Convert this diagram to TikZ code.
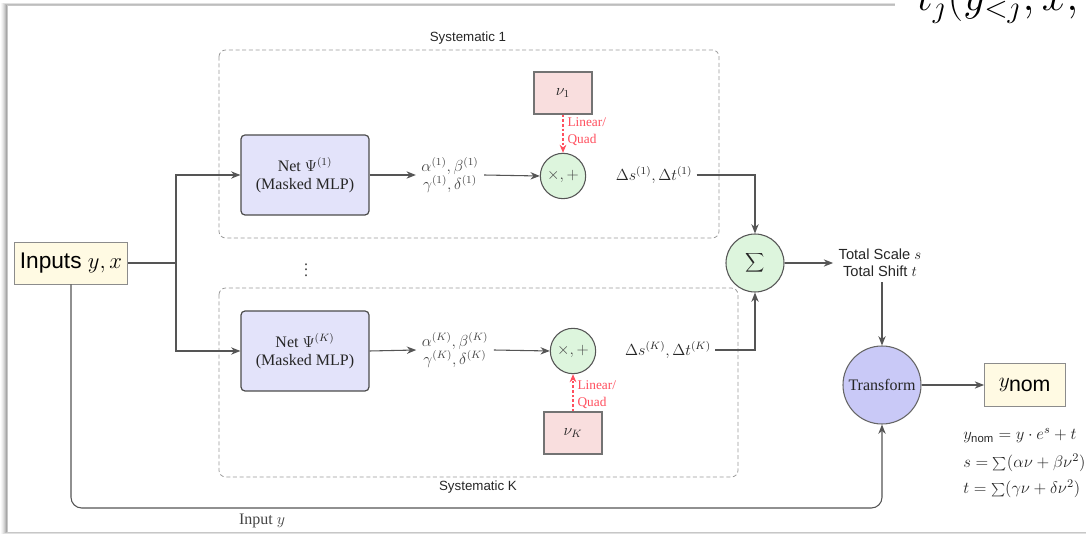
\documentclass[tikz,border=0pt]{standalone}
\usepackage{fix-cm}
\usepackage[no-math]{fontspec}
\setmainfont{Liberation Serif}
\setsansfont{Liberation Sans}
\usetikzlibrary{arrows.meta,calc}

\definecolor{edge}{HTML}{555555}
\definecolor{netfill}{HTML}{E3E3FA}
\definecolor{opfill}{HTML}{DDF5DD}
\definecolor{nufill}{HTML}{F9DEDE}
\definecolor{trfill}{HTML}{C9C9F7}
\definecolor{iofill}{HTML}{FFFAE3}
\definecolor{sysred}{HTML}{FF4F5E}
\definecolor{txt}{HTML}{262626}
\definecolor{soft}{HTML}{444444}

\newcommand\setfs[2]{\fontsize{#1}{#2}\selectfont}

\tikzset{
  netbox/.style={draw=black!70, line width=0.9pt, fill=netfill, rounded corners=3pt,
    minimum width=96pt, minimum height=60pt, align=center, font=\setfs{12}{13.5}, text=txt},
  opnode/.style={circle, draw=edge, line width=0.8pt, fill=opfill, minimum size=34pt,
    inner sep=0pt, font=\setfs{12}{14}, text=soft},
  nubox/.style={draw=black!55, line width=0.8pt, fill=nufill, minimum width=43.5pt,
    minimum height=31.5pt, font=\setfs{12}{14}, text=txt},
  iobox/.style={draw=black!45, line width=0.7pt, fill=iofill, inner sep=2pt, text=black},
  flow/.style={draw=edge, line width=0.8pt, -{Stealth[length=7pt,width=5.5pt]}},
  wire/.style={draw=edge, line width=0.8pt},
  quad/.style={draw=sysred, line width=0.8pt, dash pattern=on 2pt off 1.5pt,
    -{Stealth[length=6pt,width=5pt]}},
  sysframe/.style={draw=black!40, line width=0.6pt, dash pattern=on 3pt off 2pt, rounded corners=5pt},
  qlabel/.style={text=sysred, font=\setfs{10}{12.5}, align=left, inner sep=0pt},
  caption/.style={font=\sffamily\setfs{10}{12}, text=txt},
  coef/.style={align=center, font=\setfs{12}{11.5}, text=soft, inner sep=4pt},
  delta/.style={font=\setfs{12}{14}, text=txt, inner sep=3pt},
  eqn/.style={anchor=base west, font=\setfs{12.5}{14}, text=txt, inner sep=0pt},
}

\begin{document}
\begin{tikzpicture}[x=0.75pt, y=-0.75pt]
  \clip (0,0) rectangle (1086,534);
  \fill[white] (0,0) rectangle (1086,534);

  % card with a soft shadow
  \foreach \i/\o in {6/0.03,5/0.04,4/0.05,3/0.07,2/0.09,1/0.12}
    \fill[black, opacity=\o] (7-\i,5-0.4*\i) rectangle (1100,532+0.4*\i);
  \fill[white] (7,5) rectangle (1100,532);
  \draw[black!22, line width=0.5pt] (7,5) rectangle (1100,532);
  \fill[white] (895,0) rectangle (1086,11);
  \node[anchor=base west, inner sep=0pt] (frag) at (917,11) {\setfs{33}{36}$t_j(y_{<j}, x,$};

  % systematic frames
  \draw[sysframe] (219,50) rectangle (719,238);
  \draw[sysframe] (219,288) rectangle (738,477);
  \node[caption] (sys1) at (468,38) {Systematic 1};
  \node[caption] (sysK) at (478,487) {Systematic K};
  \node[font=\setfs{12}{14}, text=soft] (dots) at (306,266) {$\vdots$};

  % inputs
  \node[iobox, minimum width=84.75pt, minimum height=31.5pt, font=\setfs{17}{20}]
    (inp) at (71,263) {\sffamily Inputs $y, x$};
  \coordinate (br) at (176,263);

  % networks
  \node[netbox] (net1) at (305,175) {Net $\Psi^{(1)}$\\(Masked MLP)};
  \node[netbox] (netK) at (305,351) {Net $\Psi^{(K)}$\\(Masked MLP)};

  % coefficients
  \node[coef] (coef1) at (450,175) {$\alpha^{(1)}, \beta^{(1)}$\\$\gamma^{(1)}, \delta^{(1)}$};
  \node[coef] (coefK) at (455,350) {$\alpha^{(K)}, \beta^{(K)}$\\$\gamma^{(K)}, \delta^{(K)}$};

  % combination with nuisance parameters
  \node[opnode] (mul1) at (563,176) {$\times, +$};
  \node[opnode] (mulK) at (573,351) {$\times, +$};
  \node[nubox] (nu1) at (563,93) {$\nu_1$};
  \node[nubox] (nuK) at (573,433) {$\nu_K$};

  \node[delta] (d1) at (654,175) {$\Delta s^{(1)}, \Delta t^{(1)}$};
  \node[delta] (dK) at (668,350) {$\Delta s^{(K)}, \Delta t^{(K)}$};

  % aggregation and transform
  \node[opnode, minimum size=43.5pt, text=txt] (sum) at (755,263) {$\displaystyle\sum$};
  \node[align=center, font=\sffamily\setfs{11}{12.5}, text=txt, inner sep=4pt]
    (tot) at (880,263) {Total Scale $s$\\Total Shift $t$};
  \node[circle, draw=black!60, line width=0.8pt, fill=trfill, minimum size=58.5pt,
    inner sep=0pt, font=\setfs{12}{14}, text=txt] (trans) at (882,385) {Transform};
  \node[iobox, minimum width=60.75pt, minimum height=32.25pt, font=\setfs{16}{18}]
    (ynom) at (1025,385) {$y_{\textsf{nom}}$};

  \node[eqn] (eq1) at (963,440) {$y_{\mbox{\setfs{8.5}{9}\sffamily nom}} = y \cdot e^{s} + t$};
  \node[eqn] (eq2) at (963,468) {$s = \sum(\alpha\nu + \beta\nu^2)$};
  \node[eqn] (eq3) at (963,494) {$t = \sum(\gamma\nu + \delta\nu^2)$};

  % connectors
  \draw[wire] (inp.east) -- (br);
  \draw[flow] (br) |- (net1.west);
  \draw[flow] (br) |- (netK.west);
  \draw[flow] (net1.east) -- (coef1.west);
  \draw[flow] (netK.east) -- (coefK.west);
  \draw[flow] (coef1.east) -- (mul1.west);
  \draw[flow] (coefK.east) -- (mulK.west);
  \draw[quad] (nu1.south) -- (mul1.north)
    node[qlabel, anchor=west, pos=0.45, xshift=3pt] (q1) {Linear/\\Quad};
  \draw[quad] (nuK.north) -- (mulK.south)
    node[qlabel, anchor=west, pos=0.45, xshift=3pt] (qK) {Linear/\\Quad};
  \draw[flow] (d1.east) -| (sum.north);
  \draw[flow] (dK.east) -| (sum.south);
  \draw[flow] (sum.east) -- (tot.west);
  \draw[flow] (trans.north |- tot.south) -- (trans.north);
  \draw[flow] (trans.east) -- (ynom.west);
  \coordinate (low) at (0,508);
  \draw[flow, rounded corners=8pt] (inp.south) -- (inp.south |- low) -- (trans.south |- low) -- (trans.south);
  \node[font=\setfs{12}{14}, text=soft] (iny) at (262,521) {Input $y$};
\end{tikzpicture}
\end{document}
